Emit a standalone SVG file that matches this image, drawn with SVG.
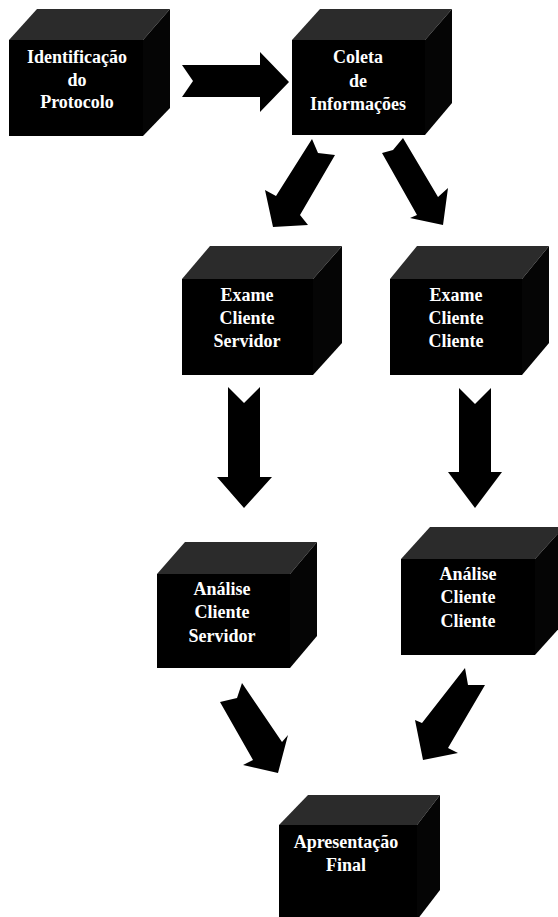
<svg xmlns="http://www.w3.org/2000/svg" width="558" height="917" viewBox="0 0 558 917">
<style>
.front{fill:#000}
.top{fill:#2b2b2b}
.side{fill:#050505}
.lbl{font-family:"Liberation Serif","Times New Roman",serif;font-weight:bold;font-size:18px;fill:#fff;text-anchor:middle}
.arr{fill:#000}
</style>
<rect width="558" height="917" fill="#fff"/>
<g id="connectors">
<polygon class="arr" points="182,65 193,81 182,97 260,97 260,112 289,82 260,52 260,65"/>
<polygon class="arr" points="312,139 318,153 335,155 300,215 308,225 273,227 265,190 276,196"/>
<polygon class="arr" points="403,138 393,150 382,153 417,215 410,218 443,225 448,188 438,197"/>
<polygon class="arr" points="228,387 244,403 260,387 260,477 272,477 244,508 217,477 228,477"/>
<polygon class="arr" points="459,388 475,404 491,388 491,472 502,472 475,508 448,472 459,472"/>
<polygon class="arr" points="242,683 237,698 220,702 253,760 243,765 278,773 288,735 282,742"/>
<polygon class="arr" points="465,668 468,685 485,685 448,748 458,753 423,760 415,720 422,723"/>
</g>
<g id="identificacao">
<polygon class="top" points="9,40 37,9 170,9 143,40"/>
<polygon class="side" points="143,40 170,9 170,108 143,136"/>
<rect class="front" x="9" y="40" width="134" height="96"/>
<text class="lbl" x="77" y="63">Identificação</text>
<text class="lbl" x="77" y="86">do</text>
<text class="lbl" x="77" y="108">Protocolo</text>
</g>
<g id="coleta">
<polygon class="top" points="292,40 320,9 452,9 425,40"/>
<polygon class="side" points="425,40 452,9 452,103 425,135"/>
<rect class="front" x="292" y="40" width="133" height="95"/>
<text class="lbl" x="358" y="63">Coleta</text>
<text class="lbl" x="358" y="87">de</text>
<text class="lbl" x="358" y="110">Informações</text>
</g>
<g id="exame-cs">
<polygon class="top" points="182,279 210,246 342,246 313,279"/>
<polygon class="side" points="313,279 342,246 342,343 313,375"/>
<rect class="front" x="182" y="279" width="131" height="96"/>
<text class="lbl" x="247" y="301">Exame</text>
<text class="lbl" x="247" y="324">Cliente</text>
<text class="lbl" x="247" y="347">Servidor</text>
</g>
<g id="exame-cc">
<polygon class="top" points="390,279 417,246 549,246 522,279"/>
<polygon class="side" points="522,279 549,246 549,343 522,375"/>
<rect class="front" x="390" y="279" width="132" height="96"/>
<text class="lbl" x="456" y="301">Exame</text>
<text class="lbl" x="456" y="324">Cliente</text>
<text class="lbl" x="456" y="347">Cliente</text>
</g>
<g id="analise-cs">
<polygon class="top" points="157,574 185,542 317,542 290,574"/>
<polygon class="side" points="290,574 317,542 317,636 290,668"/>
<rect class="front" x="157" y="574" width="133" height="94"/>
<text class="lbl" x="222" y="595">Análise</text>
<text class="lbl" x="222" y="618">Cliente</text>
<text class="lbl" x="222" y="642">Servidor</text>
</g>
<g id="analise-cc">
<polygon class="top" points="401,559 430,527 564,527 535,559"/>
<polygon class="side" points="535,559 564,527 564,623 535,655"/>
<rect class="front" x="401" y="559" width="134" height="96"/>
<text class="lbl" x="468" y="580">Análise</text>
<text class="lbl" x="468" y="603">Cliente</text>
<text class="lbl" x="468" y="627">Cliente</text>
</g>
<g id="apresentacao">
<polygon class="top" points="279,825 308,795 440,795 417,825"/>
<polygon class="side" points="417,825 440,795 440,890 417,920"/>
<rect class="front" x="279" y="825" width="138" height="95"/>
<text class="lbl" x="346" y="848">Apresentação</text>
<text class="lbl" x="346" y="871">Final</text>
</g>
</svg>
